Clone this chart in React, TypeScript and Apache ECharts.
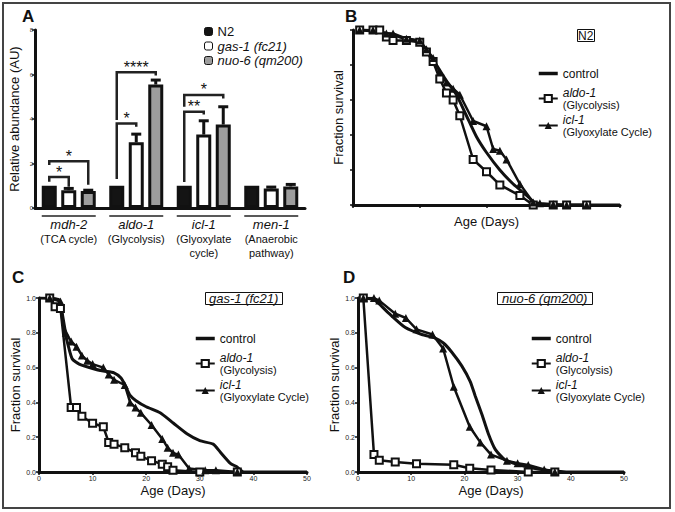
import React, { useEffect, useRef } from 'react';
import * as echarts from 'echarts';

// ---------------- Panel A : relative abundance ----------------
const GENES = ['mdh-2', 'aldo-1', 'icl-1', 'men-1'];
const PATHWAYS = ['(TCA cycle)', '(Glycolysis)', '(Glyoxylate\ncycle)', '(Anaerobic\npathway)'];
const STRAINS = ['N2', 'gas-1 (fc21)', 'nuo-6 (qm200)'];
const N2_VALUES = [1.0, 1.0, 1.0, 1.0];
const GAS1_VALUES = [0.8, 2.95, 3.3, 0.88];
const GAS1_ERROR_TOP = [0.88, 3.32, 3.92, 0.94];
const NUO6_VALUES = [0.76, 5.55, 3.75, 0.97];
const NUO6_ERROR_TOP = [0.8, 5.75, 4.55, 1.06];
const A_Y_TICKS = [0, 2, 4, 6, 8];
// [gene index, from bar, to bar, bracket level, left foot, right foot]
const BRACKETS = [
  [0, 0, 1, 1.39, 1.18, 0.95],
  [0, 0, 2, 2.1, 1.93, 1.05],
  [1, 0, 1, 3.8, 1.3, 3.65],
  [1, 0, 2, 6.1, 3.95, 5.95],
  [2, 0, 1, 4.33, 1.17, 4.2],
  [2, 0, 2, 5.08, 4.55, 4.92],
];
const BRACKET_STARS = ['*', '*', '*', '****', '**', '*'];

// ---------------- Survival panels ----------------
const SURV_NAMES = ['control', 'aldo-1', 'icl-1'];
const SURV_SUBTITLES: Record<string, string> = { 'aldo-1': '(Glycolysis)', 'icl-1': '(Glyoxylate Cycle)' };
const SURV_Y_TICKS = [0, 0.2, 0.4, 0.6, 0.8, 1.0];
const B_X_TICKS = [0, 10, 20, 30, 40];
const CD_X_TICKS = [0, 10, 20, 30, 40, 50];

// B: N2
const B_CONTROL = [[1, 1], [4, 0.99], [7, 0.96], [10, 0.93], [12, 0.83], [14, 0.71], [15.5, 0.63], [17, 0.51], [18.5, 0.39], [20, 0.3], [22, 0.2], [24, 0.12], [26, 0.055], [27.5, 0.005], [29, 0], [40, 0]];
const B_ALDO = [[1, 1], [3, 1], [4, 1], [5, 0.96], [6, 0.94], [8, 0.94], [10, 0.93], [11, 0.875], [12, 0.82], [13, 0.72], [14, 0.64], [15, 0.6], [16, 0.51], [18, 0.26], [20, 0.19], [22, 0.115], [25, 0.054], [27, 0], [30, 0], [32, 0], [35, 0]];
const B_ICL = [[1, 1], [3, 1], [5, 0.98], [6, 0.98], [8, 0.95], [10, 0.94], [11, 0.89], [12, 0.84], [13, 0.76], [14, 0.7], [15, 0.665], [16, 0.63], [18, 0.48], [20, 0.45], [21, 0.32], [22, 0.31], [23, 0.26], [25, 0.12], [27, 0.015], [28, 0.01], [30, 0.005], [32, 0], [35, 0]];

// C: gas-1 (fc21)
const C_CONTROL = [[0, 1], [3.7, 0.99], [4.5, 0.85], [5.5, 0.72], [6.2, 0.65], [7.5, 0.62], [10, 0.595], [12, 0.58], [14, 0.57], [15.3, 0.54], [16.2, 0.49], [17, 0.44], [18.1, 0.41], [20, 0.375], [22.6, 0.34], [25.1, 0.28], [27.6, 0.22], [30, 0.18], [32.5, 0.16], [33.8, 0.115], [35.7, 0.05], [36.9, 0.03], [38.2, 0], [50, 0]];
const C_ALDO = [[2, 1], [3, 0.95], [4, 0.94], [6, 0.37], [7, 0.37], [8, 0.32], [10, 0.28], [12, 0.26], [13, 0.17], [14, 0.16], [16, 0.14], [18, 0.11], [19, 0.09], [21, 0.065], [23, 0.045], [24, 0.03], [25, 0.01], [30, 0], [37, 0]];
const C_ICL = [[2, 1], [4, 0.98], [5, 0.8], [6, 0.75], [7, 0.72], [8, 0.67], [9, 0.64], [10, 0.62], [12, 0.6], [13, 0.56], [14, 0.53], [16, 0.5], [17, 0.4], [18, 0.37], [19, 0.34], [21, 0.27], [23, 0.19], [24, 0.14], [25, 0.11], [26, 0.1], [28, 0.02], [31, 0.01], [33, 0.01], [37, 0]];

// D: nuo-6 (qm200)
const D_CONTROL = [[0, 1], [3, 0.99], [5.7, 0.915], [8.9, 0.83], [12, 0.79], [14.5, 0.77], [16.1, 0.74], [17.6, 0.69], [19.5, 0.61], [21.1, 0.52], [22, 0.44], [23.3, 0.33], [24.5, 0.22], [25.8, 0.13], [27.6, 0.07], [29.3, 0.05], [32.3, 0.025], [35.4, 0.01], [40, 0], [50, 0]];
const D_ALDO = [[1, 1], [3, 0.1], [4, 0.067], [7, 0.057], [11, 0.048], [18, 0.042], [21, 0.022], [25, 0.012], [32, 0], [37, 0]];
const D_ICL = [[1, 1], [3, 1], [4, 0.985], [7, 0.91], [9, 0.885], [11, 0.82], [14, 0.79], [16, 0.71], [18, 0.49], [21, 0.26], [23, 0.17], [25, 0.1], [28, 0.065], [30, 0.05], [32, 0.04], [35, 0.015], [37, 0]];

// ---------------- styling constants ----------------
const FONT = '"Liberation Sans", Arial, Helvetica, sans-serif';
const INK = '#111';
const BAR_W = 15;
const BAR_GAP = 4.5;
const SP = BAR_W + BAR_GAP;

function renderError(params: any, api: any) {
  const cat = api.value(0);
  const base = api.coord([cat, api.value(1)]);
  const top = api.coord([cat, api.value(2)]);
  const x = base[0] + (api.value(3) - 1) * SP;
  return {
    type: 'group',
    children: [
      { type: 'line', shape: { x1: x, y1: base[1], x2: x, y2: top[1] }, style: { stroke: INK, lineWidth: 3 } },
      { type: 'line', shape: { x1: x - 5, y1: top[1], x2: x + 5, y2: top[1] }, style: { stroke: INK, lineWidth: 3 } },
    ],
  };
}

function renderBracket(params: any, api: any) {
  const cat = api.value(0);
  const c = api.coord([cat, api.value(3)]);
  const x1 = c[0] + (api.value(1) - 1) * SP;
  const x2 = c[0] + (api.value(2) - 1) * SP;
  const yl = c[1];
  const ylb = api.coord([cat, api.value(4)])[1];
  const yrb = api.coord([cat, api.value(5)])[1];
  return {
    type: 'group',
    children: [
      {
        type: 'polyline',
        shape: { points: [[x1, ylb], [x1, yl], [x2, yl], [x2, yrb]] },
        style: { stroke: '#222', lineWidth: 2.5, fill: 'none' },
      },
      {
        type: 'text',
        x: (x1 + x2) / 2,
        y: yl + 3,
        style: { text: BRACKET_STARS[params.dataIndex], fontSize: 16, fontFamily: FONT, fill: INK, align: 'center', verticalAlign: 'bottom' },
      },
    ],
  };
}

function renderOverline(params: any, api: any) {
  const c = api.coord([api.value(0), 0]);
  return {
    type: 'line',
    shape: { x1: c[0] - 27, y1: c[1] + 8, x2: c[0] + 27, y2: c[1] + 8 },
    style: { stroke: '#222', lineWidth: 1.5 },
  };
}

function survX(grid: number, ticks: number[], showLabels: boolean, nameGap: number) {
  return {
    type: 'value', gridIndex: grid,
    min: ticks[0], max: ticks[ticks.length - 1], interval: ticks[1] - ticks[0],
    name: 'Age (Days)', nameLocation: 'middle', nameGap,
    nameTextStyle: { fontSize: 13, color: INK, fontFamily: FONT },
    axisLine: { show: true, onZero: false, lineStyle: { color: INK, width: 3 } },
    axisTick: { show: true, length: 3, lineStyle: { color: INK, width: 1.5 } },
    axisLabel: { show: showLabels, fontSize: 7, margin: 3, color: '#222', fontFamily: FONT },
    splitLine: { show: false },
  };
}

function survY(grid: number, showLabels: boolean, nameGap: number) {
  return {
    type: 'value', gridIndex: grid,
    min: SURV_Y_TICKS[0], max: SURV_Y_TICKS[SURV_Y_TICKS.length - 1], interval: SURV_Y_TICKS[1] - SURV_Y_TICKS[0],
    name: 'Fraction survival', nameLocation: 'middle', nameGap,
    nameTextStyle: { fontSize: 13, color: INK, fontFamily: FONT },
    axisLine: { show: true, onZero: false, lineStyle: { color: INK, width: 3 } },
    axisTick: { show: true, length: 3, lineStyle: { color: INK, width: 1.5 } },
    axisLabel: { show: showLabels, fontSize: 7, margin: 3, color: '#222', fontFamily: FONT, formatter: (v: number) => v.toFixed(1) },
    splitLine: { show: false },
  };
}

function survSeries(grid: number, control: number[][], aldo: number[][], icl: number[][]) {
  return [
    {
      type: 'line', name: 'control', xAxisIndex: grid, yAxisIndex: grid, data: control,
      symbol: 'none', smooth: 0.2, lineStyle: { color: INK, width: 3 }, itemStyle: { color: INK }, z: 2,
    },
    {
      type: 'line', name: 'aldo-1', xAxisIndex: grid, yAxisIndex: grid, data: aldo,
      symbol: 'rect', symbolSize: 7, showAllSymbol: true,
      lineStyle: { color: INK, width: 2.5 }, itemStyle: { color: '#fff', borderColor: INK, borderWidth: 2 }, z: 3,
    },
    {
      type: 'line', name: 'icl-1', xAxisIndex: grid, yAxisIndex: grid, data: icl,
      symbol: 'triangle', symbolSize: 8, showAllSymbol: true,
      lineStyle: { color: INK, width: 2.5 }, itemStyle: { color: INK }, z: 3,
    },
  ];
}

function survLegend(left: number, top: number) {
  return {
    data: [
      { name: SURV_NAMES[0], itemStyle: { opacity: 0 }, lineStyle: { color: INK, width: 3.5, opacity: 1 } },
      { name: SURV_NAMES[1] },
      { name: SURV_NAMES[2] },
    ],
    orient: 'vertical', left, top, padding: 0,
    itemWidth: 19, itemHeight: 9, itemGap: 3.5, selectedMode: false,
    formatter: (n: string) => (n === 'control' ? `{c|${n}}` : `{i|${n}}\n{s|${SURV_SUBTITLES[n]}}`),
    textStyle: {
      color: INK, fontFamily: FONT,
      rich: {
        c: { fontSize: 12, lineHeight: 13, padding: [3.5, 0, 3.5, 0], color: INK, fontFamily: FONT },
        i: { fontSize: 12, lineHeight: 12, fontStyle: 'italic', color: INK, fontFamily: FONT },
        s: { fontSize: 11, lineHeight: 12, color: INK, fontFamily: FONT },
      },
    },
  };
}

function panelTitle(text: string, left: number, top: number) {
  return { text, left, top, padding: 0, textStyle: { fontSize: 17, fontWeight: 'bold', color: INK, fontFamily: FONT } };
}

function boxTitle(text: string, left: number, top: number, pad: number, italic: boolean, size: number) {
  return {
    text, left, top, padding: [0, pad], borderWidth: 1, borderColor: INK,
    textStyle: { fontSize: size, fontWeight: 'normal', fontStyle: italic ? 'italic' : 'normal', color: INK, lineHeight: 13, fontFamily: FONT },
  };
}

export default function App() {
  const ref = useRef<HTMLDivElement>(null);
  useEffect(() => {
    if (!ref.current) return;
    const chart = echarts.init(ref.current, undefined, { renderer: 'svg' });
    const barBase = { type: 'bar', xAxisIndex: 0, yAxisIndex: 0, barWidth: BAR_W, barGap: `${(BAR_GAP / BAR_W) * 100}%`, z: 2 };
    const option: any = {
      animation: false,
      backgroundColor: '#fff',
      textStyle: { fontFamily: FONT, color: INK },
      title: [
        panelTitle('A', 22, 8),
        panelTitle('B', 345, 8),
        panelTitle('C', 12, 269),
        panelTitle('D', 343, 269),
        boxTitle('N2', 577, 29, 1, false, 12),
        boxTitle('gas-1 (fc21)', 205, 292, 4, true, 13),
        boxTitle('nuo-6 (qm200)', 497, 292, 5, true, 13),
      ],
      legend: [
        {
          data: STRAINS, orient: 'vertical', left: 204, top: 25, padding: 0,
          itemWidth: 8, itemHeight: 8, itemGap: 1.5, selectedMode: false,
          itemStyle: { borderWidth: 1, borderColor: INK },
          formatter: (n: string) => (n === 'N2' ? `{n|${n}}` : `{i|${n}}`),
          textStyle: {
            color: INK, fontFamily: FONT,
            rich: {
              n: { fontSize: 13, lineHeight: 13, color: INK, fontFamily: FONT },
              i: { fontSize: 13, lineHeight: 13, fontStyle: 'italic', color: INK, fontFamily: FONT },
            },
          },
        },
        survLegend(537, 64),
        survLegend(194, 329),
        survLegend(530, 329),
      ],
      grid: [
        { left: 35, top: 30, width: 270, height: 178 },
        { left: 353, top: 30, width: 267, height: 175 },
        { left: 39, top: 298, width: 268, height: 174 },
        { left: 358, top: 298, width: 266, height: 174 },
      ],
      xAxis: [
        {
          type: 'category', gridIndex: 0, data: GENES,
          axisLine: { show: true, lineStyle: { color: INK, width: 3 } },
          axisTick: { show: false },
          axisLabel: {
            margin: 9, interval: 0, color: INK,
            formatter: (v: string, i: number) => `{g|${v}}\n` + PATHWAYS[i].split('\n').map((s) => `{s|${s}}`).join('\n'),
            rich: {
              g: { fontSize: 13, lineHeight: 15, fontStyle: 'italic', color: INK, fontFamily: FONT },
              s: { fontSize: 11, lineHeight: 14, color: INK, fontFamily: FONT },
            },
          },
        },
        survX(1, B_X_TICKS, false, 10),
        survX(2, CD_X_TICKS, true, 12),
        survX(3, CD_X_TICKS, true, 12),
      ],
      yAxis: [
        {
          type: 'value', gridIndex: 0,
          min: A_Y_TICKS[0], max: A_Y_TICKS[A_Y_TICKS.length - 1], interval: A_Y_TICKS[1] - A_Y_TICKS[0],
          name: 'Relative abundance (AU)', nameLocation: 'middle', nameGap: 14,
          nameTextStyle: { fontSize: 13, color: INK, fontFamily: FONT },
          axisLine: { show: true, lineStyle: { color: INK, width: 3 } },
          axisTick: { show: true, length: 3, lineStyle: { color: INK, width: 1.5 } },
          axisLabel: { fontSize: 6, margin: 2, color: '#333', fontFamily: FONT },
          splitLine: { show: false },
        },
        survY(1, false, 8),
        survY(2, true, 16),
        survY(3, true, 13),
      ],
      series: [
        { ...barBase, name: STRAINS[0], data: N2_VALUES, itemStyle: { color: '#141414', borderColor: INK, borderWidth: 3 } },
        { ...barBase, name: STRAINS[1], data: GAS1_VALUES, itemStyle: { color: '#ffffff', borderColor: INK, borderWidth: 3 } },
        { ...barBase, name: STRAINS[2], data: NUO6_VALUES, itemStyle: { color: '#9d9d9d', borderColor: INK, borderWidth: 3 } },
        {
          type: 'custom', xAxisIndex: 0, yAxisIndex: 0, renderItem: renderError, z: 4,
          encode: { x: 0, y: 2 },
          data: [
            ...GENES.map((_, i) => [i, GAS1_VALUES[i], GAS1_ERROR_TOP[i], 1]),
            ...GENES.map((_, i) => [i, NUO6_VALUES[i], NUO6_ERROR_TOP[i], 2]),
          ],
        },
        {
          type: 'custom', xAxisIndex: 0, yAxisIndex: 0, renderItem: renderBracket, z: 5,
          encode: { x: 0, y: 3 }, data: BRACKETS,
        },
        {
          type: 'custom', xAxisIndex: 0, yAxisIndex: 0, renderItem: renderOverline, z: 5, clip: false,
          encode: { x: 0, y: 1 }, data: GENES.map((_, i) => [i, 0]),
        },
        ...survSeries(1, B_CONTROL, B_ALDO, B_ICL),
        ...survSeries(2, C_CONTROL, C_ALDO, C_ICL),
        ...survSeries(3, D_CONTROL, D_ALDO, D_ICL),
      ],
      graphic: [
        {
          type: 'rect', silent: true, z: 100,
          shape: { x: 3, y: 3, width: 667, height: 505 },
          style: { fill: 'none', stroke: '#444', lineWidth: 2 },
        },
      ],
    };
    chart.setOption(option);
    return () => chart.dispose();
  }, []);
  return <div ref={ref} style={{ position: 'absolute', left: 0, top: 0, width: 675, height: 512 }} />;
}
